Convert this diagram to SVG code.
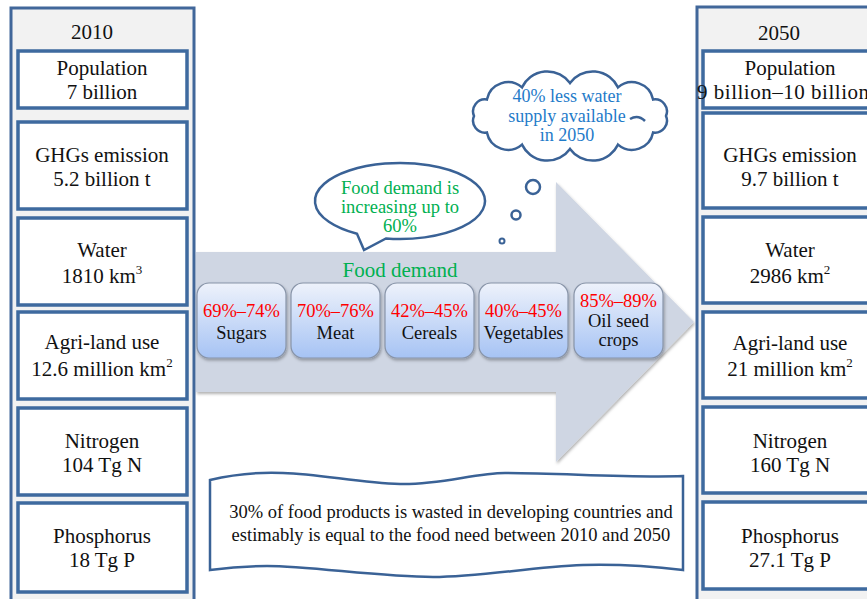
<svg xmlns="http://www.w3.org/2000/svg" width="867" height="599" viewBox="0 0 867 599">
<style>
.col{fill:#F2F2F2;stroke:#41679A;stroke-width:3}
.box{fill:#FFFFFF;stroke:#3E6A9F;stroke-width:3.5}
text{font-family:'Liberation Serif','DejaVu Serif','Times New Roman',serif}
.t{font-size:21px;fill:#111;text-anchor:middle}
.m{font-size:18.5px;text-anchor:middle}
.red{fill:#FF0000}
.blk{fill:#111}
.grn{fill:#00B050}
.blu{fill:#1F7BC9}
.fd{fill:url(#fdg);stroke:#8894A8;stroke-width:1.2}
.ol{fill:#FFFFFF;stroke:#3A6296;stroke-width:2.5}
</style>
<defs>
<linearGradient id="fdg" x1="0" y1="0" x2="0" y2="1">
<stop offset="0" stop-color="#EEF2FB"/>
<stop offset="1" stop-color="#A6C3F4"/>
</linearGradient>
<filter id="sh" x="-10%" y="-10%" width="130%" height="130%">
<feDropShadow dx="1" dy="2" stdDeviation="1.5" flood-color="#000" flood-opacity="0.3"/>
</filter>
</defs>
<rect width="867" height="599" fill="#FFFFFF"/>

<g id="arrow">
<path d="M196,252 L556,252 L556,182 L694,322 L556,462 L556,392 L196,392 Z" fill="#CFD6E3" filter="url(#sh)"/>
</g>

<g id="col2010">
<rect class="col" x="11" y="8" width="183" height="605"/>
<text class="t" x="92" y="39">2010</text>
</g>
<g id="pop2010"><rect class="box" x="18" y="51" width="169" height="57"/><text class="t" x="102" y="75">Population</text><text class="t" x="102" y="99">7 billion</text></g>
<g id="ghg2010"><rect class="box" x="18" y="122" width="169" height="87"/><text class="t" x="102" y="162">GHGs emission</text><text class="t" x="102" y="186">5.2 billion t</text></g>
<g id="water2010"><rect class="box" x="18" y="218" width="169" height="87"/><text class="t" x="102" y="257">Water</text><text class="t" x="102" y="283">1810 km<tspan font-size="13" dy="-9">3</tspan></text></g>
<g id="land2010"><rect class="box" x="18" y="312" width="169" height="87"/><text class="t" x="102" y="349">Agri-land use</text><text class="t" x="102" y="376">12.6 million km<tspan font-size="13" dy="-9">2</tspan></text></g>
<g id="n2010"><rect class="box" x="18" y="408" width="169" height="87"/><text class="t" x="102" y="448">Nitrogen</text><text class="t" x="102" y="472">104 Tg N</text></g>
<g id="p2010"><rect class="box" x="18" y="503" width="169" height="89"/><text class="t" x="102" y="543">Phosphorus</text><text class="t" x="102" y="567">18 Tg P</text></g>

<g id="col2050">
<rect class="col" x="697" y="7" width="200" height="606"/>
<text class="t" x="779" y="40">2050</text>
</g>
<g id="pop2050"><rect class="box" x="703" y="51" width="180" height="57"/><text class="t" x="790" y="75">Population</text><text class="t" x="697" y="99" style="text-anchor:start" textLength="172" lengthAdjust="spacing">9 billion–10 billion</text></g>
<g id="ghg2050"><rect class="box" x="703" y="113" width="180" height="95"/><text class="t" x="790" y="162">GHGs emission</text><text class="t" x="790" y="186">9.7 billion t</text></g>
<g id="water2050"><rect class="box" x="703" y="217" width="180" height="86"/><text class="t" x="790" y="257">Water</text><text class="t" x="790" y="283">2986 km<tspan font-size="13" dy="-9">2</tspan></text></g>
<g id="land2050"><rect class="box" x="703" y="312" width="180" height="86"/><text class="t" x="790" y="350">Agri-land use</text><text class="t" x="790" y="376">21 million km<tspan font-size="13" dy="-9">2</tspan></text></g>
<g id="n2050"><rect class="box" x="703" y="407" width="180" height="86"/><text class="t" x="790" y="448">Nitrogen</text><text class="t" x="790" y="472">160 Tg N</text></g>
<g id="p2050"><rect class="box" x="703" y="502" width="180" height="87"/><text class="t" x="790" y="543">Phosphorus</text><text class="t" x="790" y="567">27.1 Tg P</text></g>

<g id="foodlabel"><text class="m grn" x="400" y="277" style="font-size:21px">Food demand</text></g>

<g id="sugars"><rect class="fd" x="197" y="283" width="89" height="75" rx="12" filter="url(#sh)"/><text class="m red" x="241.5" y="317">69%–74%</text><text class="m blk" x="241.5" y="339">Sugars</text></g>
<g id="meat"><rect class="fd" x="291" y="283" width="89" height="75" rx="12" filter="url(#sh)"/><text class="m red" x="335.5" y="317">70%–76%</text><text class="m blk" x="335.5" y="339">Meat</text></g>
<g id="cereals"><rect class="fd" x="385" y="283" width="89" height="75" rx="12" filter="url(#sh)"/><text class="m red" x="429.5" y="317">42%–45%</text><text class="m blk" x="429.5" y="339">Cereals</text></g>
<g id="vegetables"><rect class="fd" x="479" y="283" width="89" height="75" rx="12" filter="url(#sh)"/><text class="m red" x="523.5" y="317">40%–45%</text><text class="m blk" x="523.5" y="339">Vegetables</text></g>
<g id="oilseed"><rect class="fd" x="574" y="283" width="89" height="75" rx="12" filter="url(#sh)"/><text class="m red" x="618.5" y="307">85%–89%</text><text class="m blk" x="618.5" y="327">Oil seed</text><text class="m blk" x="618.5" y="346">crops</text></g>

<g id="speech">
<path class="ol" d="M357,233.8 A85,38 0 1 1 386,238.5 L364,250 Z"/>
<text class="m grn" x="400" y="194">Food demand is</text>
<text class="m grn" x="400" y="213">increasing up to</text>
<text class="m grn" x="400" y="232">60%</text>
</g>

<g id="cloud">
<path class="ol" d="M666,116 A12,12 0 0 1 653.1,132.5 A21.5,21.5 0 0 1 618,144.6 A28,28 0 0 1 570,149 A28,28 0 0 1 522,144.6 A21.5,21.5 0 0 1 486.9,132.5 A12,12 0 0 1 474,116 A12,12 0 0 1 486.9,99.5 A21.5,21.5 0 0 1 522,87.4 A28,28 0 0 1 570,83 A28,28 0 0 1 618,87.4 A21.5,21.5 0 0 1 653.1,99.5 A12,12 0 0 1 666,116 Z"/>
<path d="M630,119 Q638,114 645,121" fill="none" stroke="#3A6296" stroke-width="2.5"/>
<circle cx="533" cy="187" r="7" fill="#FFFFFF" stroke="#3A6296" stroke-width="2.5"/>
<circle cx="516" cy="215" r="4.5" fill="#FFFFFF" stroke="#3A6296" stroke-width="2.5"/>
<circle cx="502" cy="241" r="2.5" fill="#FFFFFF" stroke="#3A6296" stroke-width="2"/>
<text class="m blu" x="567" y="102" style="font-size:18px">40% less water</text>
<text class="m blu" x="567" y="121.5" style="font-size:18px">supply available</text>
<text class="m blu" x="567" y="141" style="font-size:18px">in 2050</text>
</g>

<g id="waste">
<path class="ol" d="M210,480 C235,474 260,472 283,473 C320,474 360,483 400,484 C440,485 475,473 505,473 C560,473 630,478 683,476 L683,570 C650,566 620,564 583,565 C530,567 480,577 433,577 C380,577 310,566 267,566 C245,566 225,568 210,570 Z"/>
<text class="m blk" x="451" y="518">30% of food products is wasted in developing countries and</text>
<text class="m blk" x="451" y="541">estimably is equal to the food need between 2010 and 2050</text>
</g>
<g id="connectors"></g>
</svg>
